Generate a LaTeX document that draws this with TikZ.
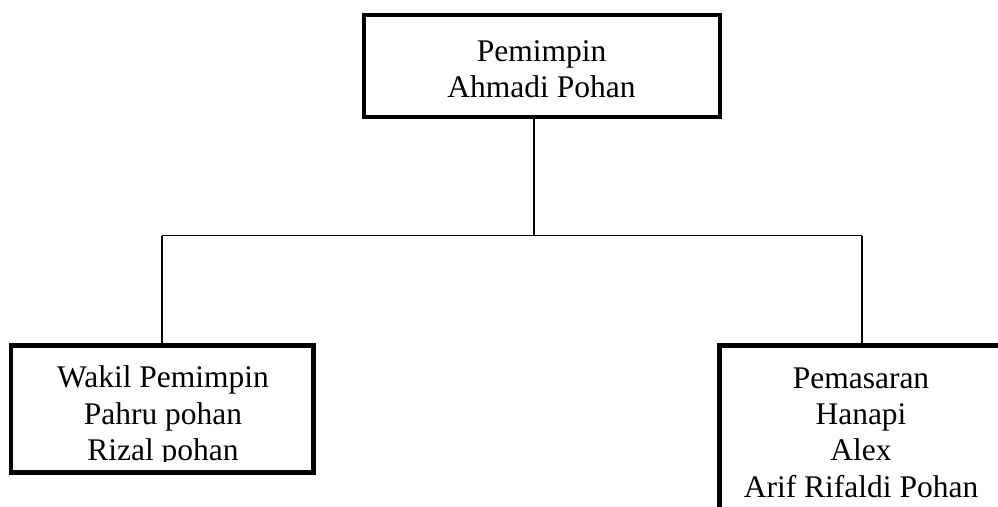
\documentclass[tikz,border=0pt]{standalone}
\usepackage{fontspec}
\setmainfont{Liberation Serif}
\begin{document}
\begin{tikzpicture}[x=1bp,y=-1bp,
  orgbox/.style={draw=black,line width=4.5bp,rectangle,inner sep=0pt,fill=none},
  conn/.style={draw=black,line width=1.3bp},
  txt/.style={anchor=base,inner sep=0pt,font=\fontsize{31.5bp}{36bp}\selectfont}]
\useasboundingbox (0,0) rectangle (998,507);
\clip (0,0) rectangle (998,507);
% boxes (shapes only, drawn after connectors)
\path (542,66) node[minimum width=356bp,minimum height=102bp,inner sep=0pt] (top) {};
\path (162.25,409) node[minimum width=302.5bp,minimum height=127bp,inner sep=0pt] (wakil) {};
\path (861,437.75) node[minimum width=283bp,minimum height=184.5bp,inner sep=0pt] (pemasaran) {};
% connectors
\coordinate (j) at (534,235.7);
\coordinate (hl) at (162,235.7);
\coordinate (hr) at (862,235.7);
\draw[conn] (j |- top.south) -- (j);
\draw[conn] (hl) -- (hr);
\draw[conn] (hl) -- (hl |- wakil.north);
\draw[conn] (hr) -- (hr |- pemasaran.north);
% box outlines
\draw[orgbox] (top.north west) rectangle (top.south east);
\draw[orgbox] (wakil.north west) rectangle (wakil.south east);
\draw[orgbox] (pemasaran.north west) rectangle (pemasaran.south east);
% texts
\node[txt] (t1) at (541.5,61.5) {Pemimpin};
\node[txt] (t2) at (541.5,97.5) {Ahmadi Pohan};
\begin{scope}
\clip (wakil.north west) rectangle ([yshift=11.5bp]wakil.south east);
\node[txt] (w1) at (163,387.5) {Wakil Pemimpin};
\node[txt] (w2) at (163,424) {Pahru pohan};
\node[txt] (w3) at (163,460.5) {Rizal pohan};
\end{scope}
\node[txt] (p1) at (861,388.5) {Pemasaran};
\node[txt] (p2) at (861,424) {Hanapi};
\node[txt] (p3) at (861,460.5) {Alex};
\node[txt] (p4) at (861,497) {Arif Rifaldi Pohan};
\end{tikzpicture}
\end{document}
